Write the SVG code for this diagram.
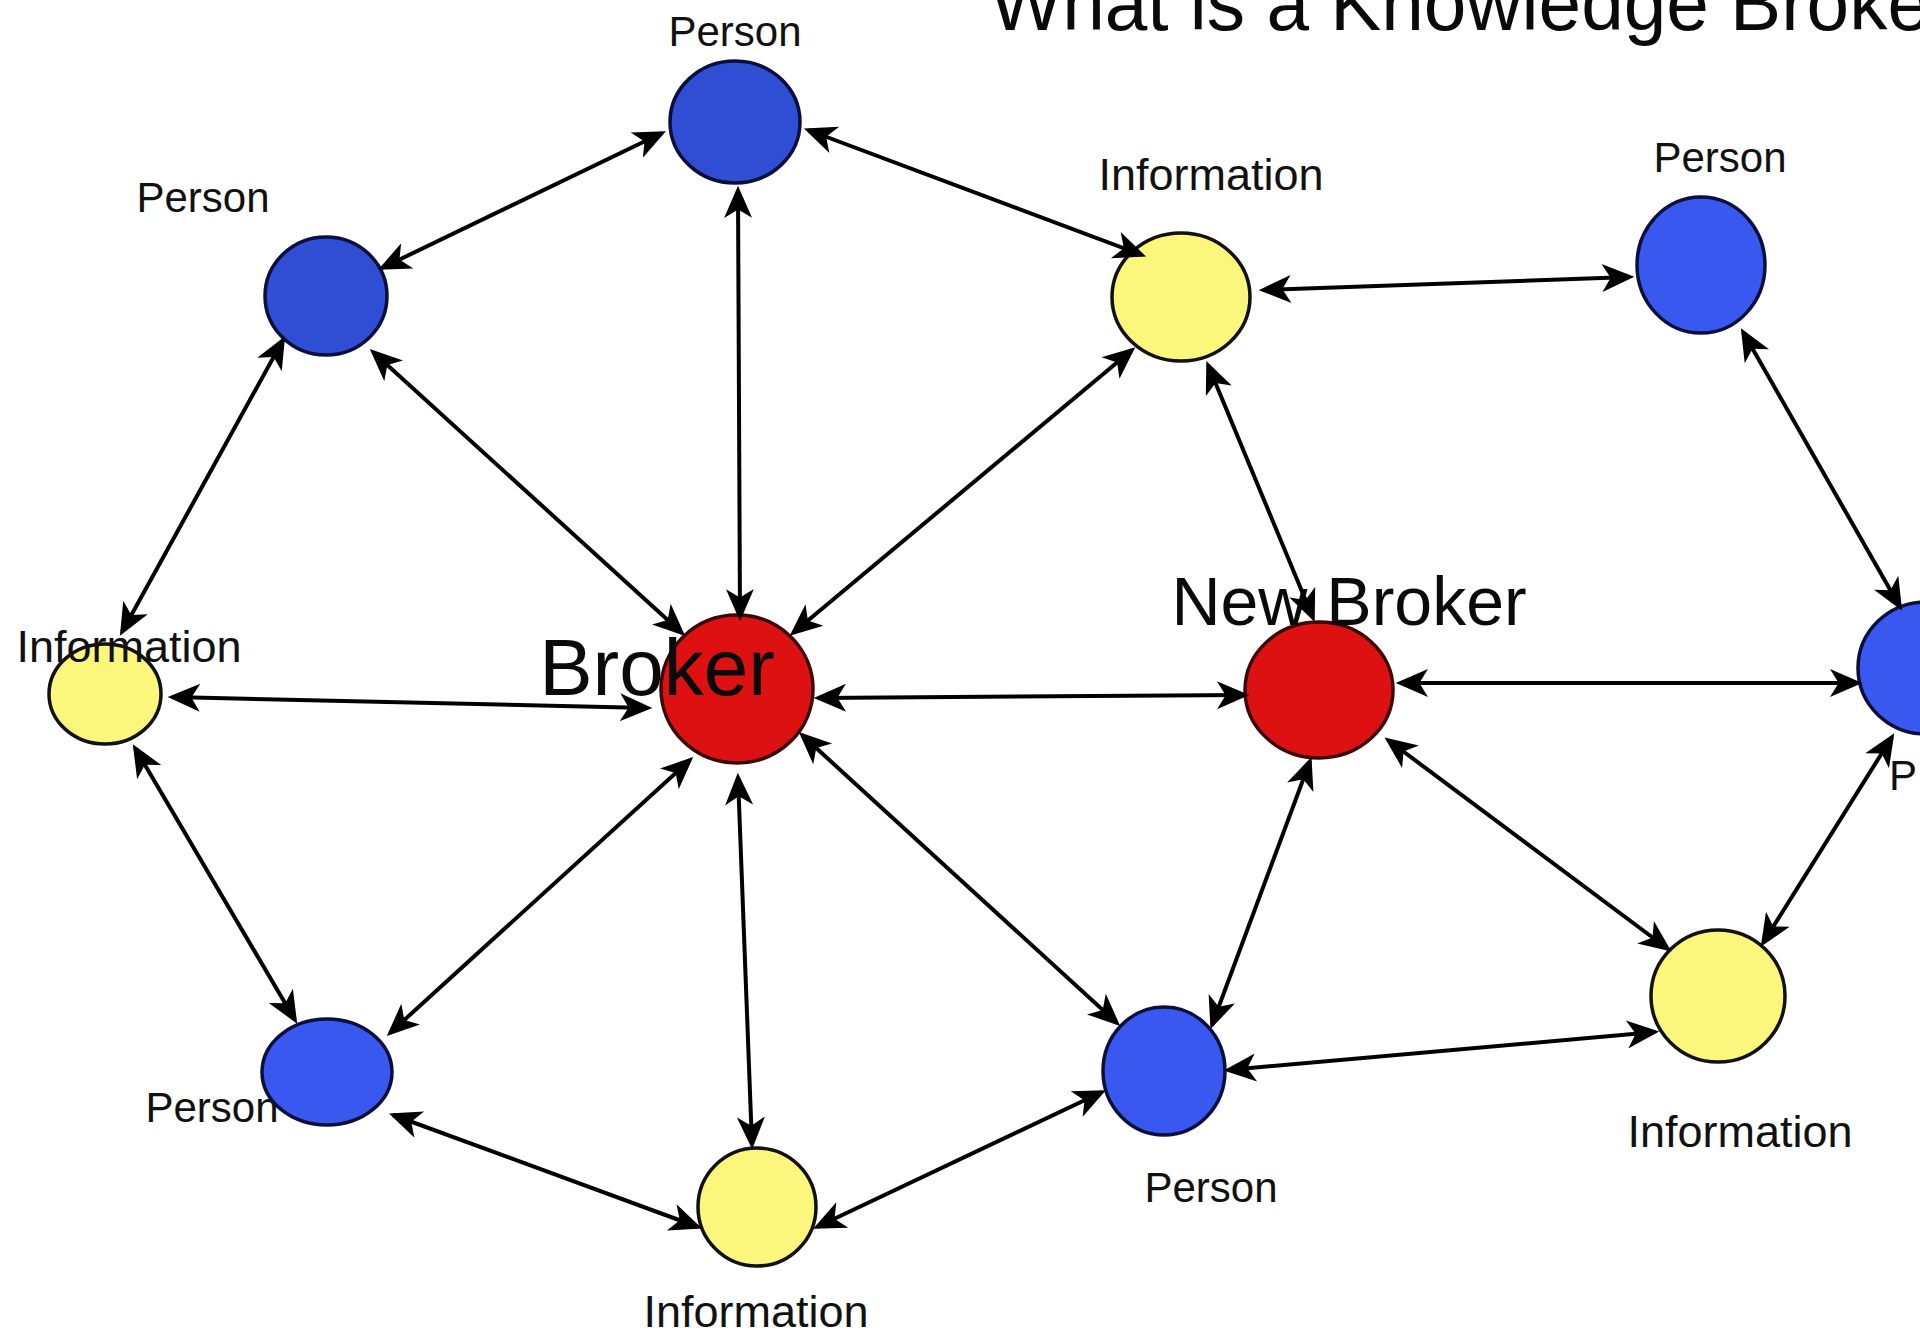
<svg xmlns="http://www.w3.org/2000/svg" width="1920" height="1334" viewBox="0 0 1920 1334">
<style>
.e{stroke:#000;stroke-width:4;fill:none;marker-start:url(#ah);marker-end:url(#ah)}
.p1{fill:#2f4ed4;stroke:#0b0f3a;stroke-width:3.5}
.p2{fill:#3858ef;stroke:#0b0f3a;stroke-width:3.5}
.i{fill:#faf77c;stroke:#111;stroke-width:3.5}
.b{fill:#dd1111;stroke:#3a0606;stroke-width:3.5}
.l{font-family:"Liberation Sans",Arial,sans-serif;font-size:42px;fill:#111;text-anchor:middle}
.li{font-family:"Liberation Sans",Arial,sans-serif;font-size:45px;fill:#111;text-anchor:middle}
.big{font-family:"Liberation Sans",Arial,sans-serif;fill:#0a0a0a;text-anchor:middle}
</style>
<defs>
<marker id="ah" markerUnits="userSpaceOnUse" markerWidth="34" markerHeight="28" viewBox="0 0 30 26" refX="26" refY="13" orient="auto-start-reverse">
<path d="M0,0 L30,13 L0,26 L8,13 z" fill="#000"/>
</marker>
</defs>
<rect width="1920" height="1334" fill="#fff"/>
<text id="title" x="990" y="30" font-family="'Liberation Sans',Arial,sans-serif" font-size="78" fill="#0a0a0a" textLength="940" lengthAdjust="spacingAndGlyphs">What is a Knowledge Broke</text>

<g id="nodes">
<g id="person-top"><ellipse class="p1" cx="735" cy="122" rx="65" ry="61"/><text class="l" x="735" y="46">Person</text></g>
<g id="person-left"><ellipse class="p1" cx="326" cy="296" rx="61" ry="59"/><text class="l" x="203" y="212">Person</text></g>
<g id="info-top"><ellipse class="i" cx="1181" cy="297" rx="69" ry="64"/><text class="li" x="1211" y="190">Information</text></g>
<g id="person-topright"><ellipse class="p2" cx="1701" cy="265" rx="64" ry="68"/><text class="l" x="1720" y="172">Person</text></g>
<g id="info-left"><ellipse class="i" cx="105" cy="694" rx="56" ry="50"/><text class="li" x="129" y="662">Information</text></g>
<g id="broker"><ellipse class="b" cx="737" cy="689" rx="76" ry="74"/><text class="big" x="657" y="695" font-size="80">Broker</text></g>
<g id="new-broker"><ellipse class="b" cx="1319" cy="690" rx="74" ry="68"/><text class="big" x="1349" y="625" font-size="68">New Broker</text></g>
<g id="person-right"><ellipse class="p2" cx="1926" cy="668" rx="68" ry="66"/><text class="l" x="1903" y="790" text-anchor="start">P</text></g>
<g id="person-bottomleft"><text class="l" x="212" y="1122">Person</text><ellipse class="p2" cx="327" cy="1072" rx="65" ry="53"/></g>
<g id="info-bottom"><ellipse class="i" cx="757" cy="1207" rx="59" ry="59"/><text class="li" x="756" y="1327">Information</text></g>
<g id="person-bottom"><ellipse class="p2" cx="1164" cy="1071" rx="61" ry="64"/><text class="l" x="1211" y="1202">Person</text></g>
<g id="info-bottomright"><ellipse class="i" cx="1718" cy="996" rx="67" ry="66"/><text class="li" x="1740" y="1147">Information</text></g>
</g>

<g id="connectors">
<line class="e" x1="662" y1="133" x2="382" y2="268"/>
<line class="e" x1="808" y1="130" x2="1142" y2="255"/>
<line class="e" x1="738" y1="190" x2="740" y2="617"/>
<line class="e" x1="373" y1="352" x2="682" y2="633"/>
<line class="e" x1="1132" y1="350" x2="793" y2="633"/>
<line class="e" x1="1263" y1="290" x2="1630" y2="277"/>
<line class="e" x1="1208" y1="365" x2="1313" y2="618"/>
<line class="e" x1="1743" y1="332" x2="1900" y2="607"/>
<line class="e" x1="283" y1="340" x2="122" y2="632"/>
<line class="e" x1="172" y1="697" x2="648" y2="708"/>
<line class="e" x1="818" y1="698" x2="1245" y2="695"/>
<line class="e" x1="1400" y1="683" x2="1858" y2="683"/>
<line class="e" x1="135" y1="748" x2="295" y2="1020"/>
<line class="e" x1="690" y1="760" x2="390" y2="1033"/>
<line class="e" x1="738" y1="777" x2="752" y2="1145"/>
<line class="e" x1="802" y1="735" x2="1117" y2="1023"/>
<line class="e" x1="1310" y1="761" x2="1212" y2="1025"/>
<line class="e" x1="1388" y1="740" x2="1668" y2="949"/>
<line class="e" x1="1892" y1="737" x2="1763" y2="943"/>
<line class="e" x1="1228" y1="1070" x2="1655" y2="1032"/>
<line class="e" x1="393" y1="1115" x2="698" y2="1227"/>
<line class="e" x1="817" y1="1227" x2="1102" y2="1092"/>
</g>
</svg>
